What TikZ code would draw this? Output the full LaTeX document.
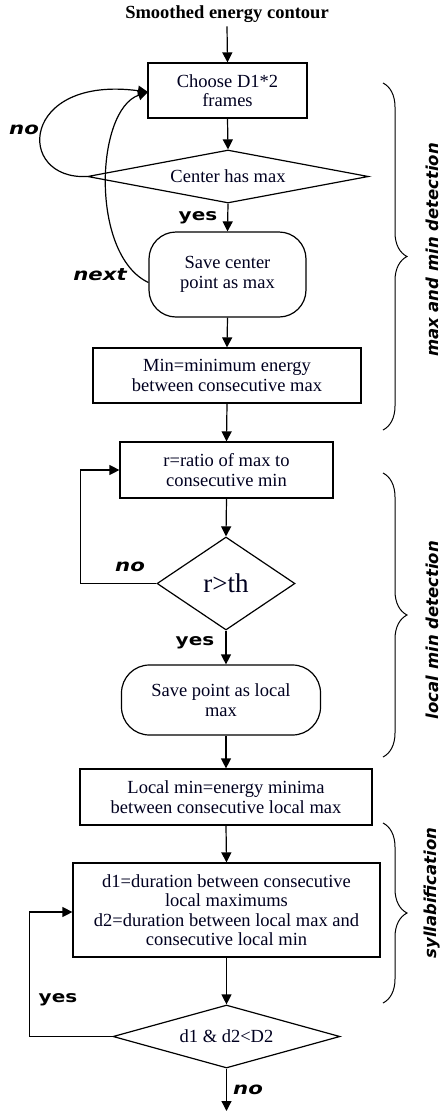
\documentclass[tikz,border=0pt]{standalone}
\usepackage{fontspec}
\setmainfont{Liberation Serif}
\newfontfamily\lblfont[FakeStretch=1.25]{DejaVu Sans}
\newfontfamily\brfont{DejaVu Sans}
\usetikzlibrary{shapes.geometric,arrows.meta,decorations.pathreplacing}
\begin{document}
\begin{tikzpicture}[x=1pt,y=-1pt,
  line width=1.2pt,
  arr/.style={-{Triangle[length=10pt,width=10pt]}},
  txt/.style={font=\fontsize{18.5}{19.5}\selectfont, text=black!88!blue, align=center},
  boxn/.style={txt, draw, rectangle, inner sep=0pt},
  roundn/.style={txt, draw, rectangle, rounded corners=27pt, inner sep=0pt},
  dian/.style={txt, draw, diamond, inner sep=0pt},
  lbl/.style={font=\lblfont\bfseries\itshape\fontsize{17}{17}\selectfont},
  ylbl/.style={font=\lblfont\bfseries\fontsize{16}{16}\selectfont},
  bracel/.style={font=\brfont\bfseries\itshape\fontsize{16.5}{16.5}\selectfont, rotate=90},
  bracedec/.style={decorate, decoration={brace, amplitude=24pt}, line width=1pt}
]
\useasboundingbox (0,0) rectangle (441,1112);

\node[txt, font=\bfseries\fontsize{18.5}{19.5}\selectfont, text=black] (title) at (227,14) {Smoothed energy contour};

\node[boxn, minimum width=159pt, minimum height=55pt] (box1) at (227.5,90.5) {Choose D1*2\\frames};
\node[dian, shape aspect=5.3, minimum width=281pt, minimum height=53pt] (dia1) at (228,176.5) {Center has max};
\node[roundn, minimum width=157pt, minimum height=85pt] (save1) at (227.5,274.5) {Save center\\point as max};
\node[boxn, minimum width=268pt, minimum height=55pt] (box2) at (227,375.5) {Min=minimum energy\\between consecutive max};
\node[boxn, minimum width=213pt, minimum height=56pt] (box3) at (226.5,470) {r=ratio of max to\\consecutive min};
\node[dian, shape aspect=1.48, minimum width=138pt, minimum height=93pt, font=\fontsize{27}{27}\selectfont] (dia2) at (226,583.5) {r>th};
\node[roundn, rounded corners=28pt, minimum width=199pt, minimum height=70pt] (save2) at (221,700) {Save point as local\\max};
\node[boxn, minimum width=292pt, minimum height=56pt] (box4) at (226,797) {Local min=energy minima\\between consecutive local max};
\node[boxn, minimum width=307pt, minimum height=94pt] (box5) at (226.5,910) {d1=duration between consecutive\\local maximums\\d2=duration between local max and\\consecutive local min};
\node[dian, shape aspect=3.6, minimum width=227pt, minimum height=63pt] (dia3) at (226.5,1036.5) {d1 \& d2<D2};
\coordinate (end) at (226.5,1111);

% main flow
\draw[arr] (title.south) -- (box1.north);
\draw[arr] (box1.south) -- (dia1.north);
\draw[arr] (dia1.south) -- (save1.north);
\draw[arr] (save1.south) -- (box2.north);
\draw[arr] (box2.south) -- (box3.north);
\draw[arr] (box3.south) -- (dia2.north);
\draw[arr] (dia2.south) -- (dia2.south |- save2.north);
\draw[arr] (save2.south -| box4.north) -- (box4.north);
\draw[arr] (box4.south) -- (box5.north);
\draw[arr] (box5.south) -- (dia3.north);
\draw[arr] (dia3.south) -- (end);

% loops
\coordinate (in1) at (148,92);
\draw[arr] (dia1.west) .. controls (15,180) and (20,75) .. (in1);
\draw[arr] ([yshift=-8pt]save1.west) .. controls (90,255) and (95,110) .. (in1);
\draw[arr] (dia2.west) -- ++(-76,0) |- (box3.west);
\draw[arr] (dia3.west) -- ++(-83,0) |- ([yshift=-2pt]box5.west);

% labels
\node[lbl] (no1) at (24,130) {no};
\node[ylbl] (yes1) at (198,218) {yes};
\node[lbl] (next) at (100,275) {next};
\node[lbl] (no2) at (130,567) {no};
\node[ylbl] (yes2) at (195,643) {yes};
\node[ylbl] (yes3) at (58,1000) {yes};
\node[lbl] (no3) at (248,1090) {no};

% braces
\coordinate (b1t) at (383,83);
\coordinate (b1b) at (383,430);
\coordinate (b2t) at (383,473);
\coordinate (b2b) at (383,757);
\coordinate (b3t) at (383,823);
\coordinate (b3b) at (383,1003);
\draw[bracedec] (b1t) -- (b1b);
\draw[bracedec] (b2t) -- (b2b);
\draw[bracedec] (b3t) -- (b3b);
\node[bracel] (bl1) at (432,250) {max and min detection};
\node[bracel] (bl2) at (432,630) {local min detection};
\node[bracel] (bl3) at (432,893) {syllabification};
\end{tikzpicture}
\end{document}
